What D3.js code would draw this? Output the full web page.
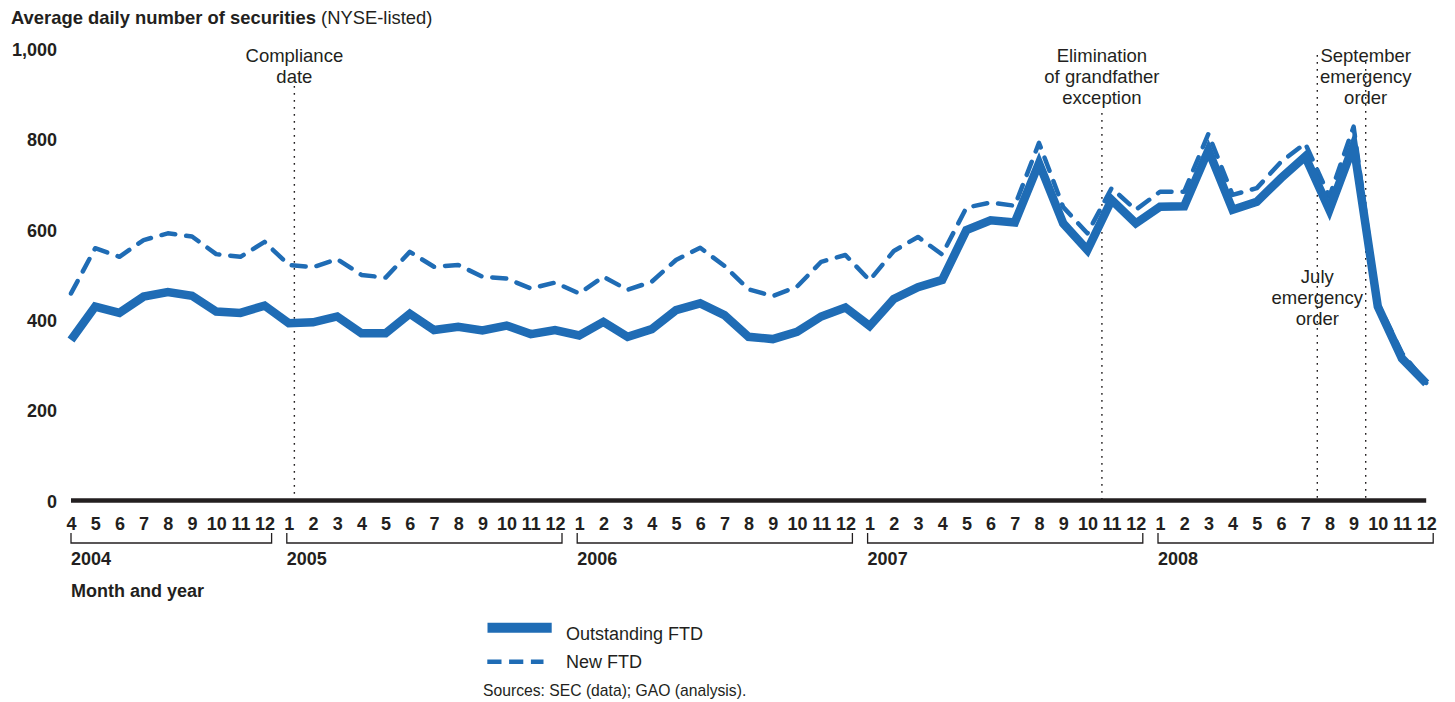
<!DOCTYPE html>
<html>
<head>
<meta charset="utf-8">
<script src="https://cdn.jsdelivr.net/npm/d3@7"></script>
<style>
  html, body { margin: 0; padding: 0; background: #fff; }
  svg { display: block; font-family: "Liberation Sans", Arial, Helvetica, sans-serif; }
</style>
</head>
<body>
<svg id="chart" width="1455" height="702"></svg>
<script>
// ---------------- DATA ----------------
const monthLabels = [
  "4","5","6","7","8","9","10","11","12",
  "1","2","3","4","5","6","7","8","9","10","11","12",
  "1","2","3","4","5","6","7","8","9","10","11","12",
  "1","2","3","4","5","6","7","8","9","10","11","12",
  "1","2","3","4","5","6","7","8","9","10","11","12"
];
const yearLabels = ["2004", "2005", "2006", "2007", "2008"];
const yearFirstMonth = [0, 9, 21, 33, 45];
const yearLastMonth = [8, 20, 32, 44, 56];

const outstandingFTD = [
  354, 428, 414, 450, 460, 452, 417, 414, 430,
  391, 393, 406, 369, 369, 412, 376, 383, 375, 386, 367, 376, 364,
  394, 361, 378, 420, 435, 409, 361, 356, 372, 406, 426, 385,
  445, 471, 487, 597, 619, 614, 745, 612, 553, 664, 612, 649,
  650, 774, 642, 660, 712, 760, 642, 785, 428, 313, 258
];
const newFTD = [
  457, 557, 538, 575, 590, 583, 544, 538, 571,
  520, 515, 533, 498, 492, 549, 516, 520, 494, 490, 468, 481, 457,
  494, 465, 483, 531, 558, 518, 466, 451, 472, 527, 542, 486,
  551, 582, 543, 647, 658, 651, 790, 648, 590, 690, 642, 682,
  682, 810, 675, 690, 748, 789, 671, 826, 436, 325, 259
];
const yTicks = [0, 200, 400, 600, 800, 1000];

const eventLabels = [
  ["Compliance", "date"],
  ["Elimination", "of grandfather", "exception"],
  ["July", "emergency", "order"],
  ["September", "emergency", "order"]
];
const eventMonthIndex = [9.23, 42.6, 51.5, 53.5];

const legendLabels = ["Outstanding FTD", "New FTD"];
const sourceText = "Sources: SEC (data); GAO (analysis).";

// ---------------- DRAW ----------------
const BLUE = "#1f6cb5";
const INK = "#231f20";
const svg = d3.select("#chart");

const x = d3.scaleLinear().domain([0, 56]).range([71, 1426.2]);
const y = d3.scaleLinear().domain([0, 1000]).range([500, 48]);

// title
const title = svg.append("text").attr("x", 11).attr("y", 24)
  .attr("font-size", 18.4).attr("fill", INK);
title.append("tspan").attr("font-weight", "bold").text("Average daily number of securities");
title.append("tspan").text(" (NYSE-listed)");

// y axis labels
const yAxis = d3.axisLeft(y).tickValues(yTicks).tickFormat(d3.format(",")).tickSize(0).tickPadding(0);
const gy = svg.append("g").attr("transform", "translate(57,1.5)").call(yAxis);
gy.select(".domain").remove();
gy.selectAll("text").attr("font-size", 18).attr("font-weight", "bold")
  .attr("fill", INK).attr("font-family", "Liberation Sans, Arial, sans-serif");

// event lines
const eventTops = [86, 113, 55, 62];
svg.append("g").selectAll("line").data(eventMonthIndex).join("line")
  .attr("x1", d => x(d)).attr("x2", d => x(d))
  .attr("y1", (d, i) => eventTops[i]).attr("y2", y(0))
  .attr("stroke", INK).attr("stroke-width", 1.4)
  .attr("stroke-dasharray", "1.8,5.2");

// lines: dashed underneath, solid on top
const line = d3.line().x((d, i) => x(i)).y(d => y(d));
svg.append("path").datum(newFTD).attr("d", line)
  .attr("fill", "none").attr("stroke", BLUE).attr("stroke-width", 4.5)
  .attr("stroke-dasharray", "14,11").attr("stroke-linecap", "round")
  .attr("stroke-linejoin", "round");
svg.append("path").datum(outstandingFTD).attr("d", line)
  .attr("fill", "none").attr("stroke", BLUE).attr("stroke-width", 8.5)
  .attr("stroke-linejoin", "miter").attr("stroke-miterlimit", 4);

// baseline
svg.append("line").attr("x1", x(0)).attr("x2", x(56))
  .attr("y1", y(0) + 0.5).attr("y2", y(0) + 0.5)
  .attr("stroke", INK).attr("stroke-width", 4.5);

// event text
const textBases = [[62, 83], [62, 83, 104], [283, 304, 325], [62, 83, 104]];
eventLabels.forEach((lines, i) => {
  const t = svg.append("text").attr("text-anchor", "middle")
    .attr("font-size", 18.5).attr("fill", INK);
  lines.forEach((s, j) => {
    t.append("tspan").attr("x", x(eventMonthIndex[i])).attr("y", textBases[i][j]).text(s);
  });
});

// month axis
const xAxis = d3.axisBottom(x).tickValues(d3.range(monthLabels.length))
  .tickFormat(i => monthLabels[i]).tickSize(0).tickPadding(0);
const gx = svg.append("g").attr("transform", "translate(0,530)").call(xAxis);
gx.select(".domain").remove();
gx.selectAll("text").attr("dy", 0).attr("font-size", 18).attr("font-weight", "bold")
  .attr("fill", INK).attr("font-family", "Liberation Sans, Arial, sans-serif");

// year brackets
const gb = svg.append("g");
yearLabels.forEach((yr, k) => {
  const x0 = x(yearFirstMonth[k]) - (k === 0 ? 0 : 2), x1 = x(yearLastMonth[k]) + 7;
  gb.append("path")
    .attr("d", `M${x0},533V543H${x1}V533`)
    .attr("fill", "none").attr("stroke", INK).attr("stroke-width", 1.3);
  gb.append("text").attr("x", x0).attr("y", 565)
    .attr("font-size", 18).attr("font-weight", "bold").attr("fill", INK).text(yr);
});

svg.append("text").attr("x", 71).attr("y", 597)
  .attr("font-size", 18).attr("font-weight", "bold").attr("fill", INK).text("Month and year");

// legend
svg.append("line").attr("x1", 487.5).attr("x2", 551.7).attr("y1", 627.7).attr("y2", 627.7)
  .attr("stroke", BLUE).attr("stroke-width", 10);
svg.append("line").attr("x1", 487.3).attr("x2", 543.5).attr("y1", 661.7).attr("y2", 661.7)
  .attr("stroke", BLUE).attr("stroke-width", 4.5).attr("stroke-dasharray", "14.2,7.6");
svg.append("text").attr("x", 566).attr("y", 639.5).attr("font-size", 18).attr("fill", INK).text(legendLabels[0]);
svg.append("text").attr("x", 566).attr("y", 668).attr("font-size", 18).attr("fill", INK).text(legendLabels[1]);
svg.append("text").attr("x", 483).attr("y", 695.5).attr("font-size", 15.7).attr("fill", INK).text(sourceText);
</script>
</body>
</html>
